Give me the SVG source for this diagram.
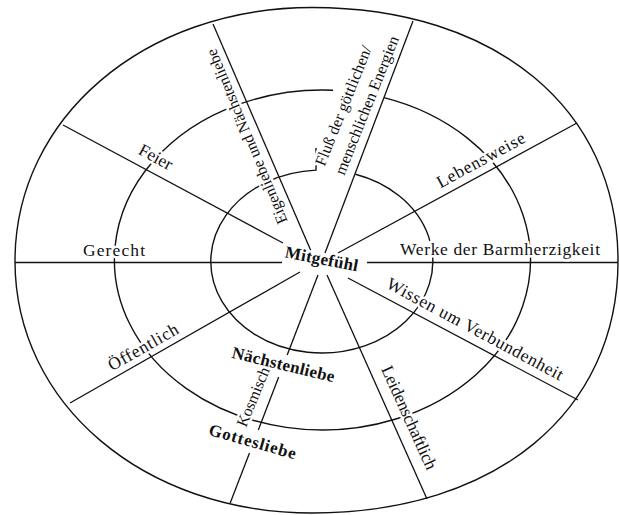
<svg xmlns="http://www.w3.org/2000/svg" xmlns:xlink="http://www.w3.org/1999/xlink" width="619" height="515" viewBox="0 0 619 515">
<style>
.ring{fill:none;stroke:#111;stroke-width:1.4}
.sp{fill:none;stroke:#111;stroke-width:1.3}
text{font-family:"Liberation Serif","Times New Roman",serif;text-anchor:middle;lengthAdjust:spacing}
.r{font-size:17.5px}
.s{font-size:16px}
.b{font-weight:bold;font-size:17px}
.halo{fill:#fff;stroke:#fff;stroke-width:5;stroke-linejoin:round}
.ink{fill:#111;stroke:none}
</style>
<defs>
<text id="t-feier" class="r" transform="translate(153 162) rotate(28.2)" textLength="36">Feier</text>
<text id="t-gerecht" class="r" x="114" y="256" textLength="62">Gerecht</text>
<text id="t-oeff" class="r" transform="translate(146 352) rotate(-29.7)" textLength="78">Öffentlich</text>
<text id="t-leb" class="r" transform="translate(483.6 165) rotate(-28.5)" textLength="98">Lebensweise</text>
<text id="t-werke" class="r" x="500" y="255" textLength="200">Werke der Barmherzigkeit</text>
<text id="t-wissen" class="r" transform="translate(472.4 334) rotate(28.2)" textLength="198">Wissen um Verbundenheit</text>
<text id="t-leid" class="r" transform="translate(404 420) rotate(65.7)" textLength="112">Leidenschaftlich</text>
<text id="t-naech" class="b" transform="translate(282 370) rotate(13.6)" textLength="105">Nächstenliebe</text>
<text id="t-kos" class="s" transform="translate(258 399) rotate(-67.5)" textLength="63">Kosmisch</text>
<text id="t-gott" class="b" transform="translate(251 447) rotate(15.9)" textLength="90">Gottesliebe</text>
<text id="t-mit" class="b" transform="translate(320.6 264.4) rotate(11)" textLength="74">Mitgefühl</text>
<text id="t-eigen" class="s" transform="translate(251.7 134.5) rotate(-112.6)" textLength="188">Eigenliebe und Nächstenliebe</text>
<text id="t-fluss1" class="s" transform="translate(348.2 107.7) rotate(-68.2)" textLength="128">Fluß der göttlichen/</text>
<text id="t-fluss2" class="s" transform="translate(371.7 107.2) rotate(-68.2)" textLength="148">menschlichen Energien</text>
</defs>
<rect width="619" height="515" fill="#fff"/>
<g id="rings">
<path id="outer" class="ring" d="M15 261 C15 118 144 7.5 312 7.5 C496 7.5 618 109 618 261 C618 412 496 513 312 513 C144 513 15 404 15 261 Z"/>
<path id="middle" class="ring" d="M384 97.6 A208 170 0 1 1 333 90.2"/>
<path id="inner" class="ring" d="M355.5 174.3 A111 91.5 0 1 1 316 170.1 L316 148"/>
</g>
<g id="connectors">
<line class="sp" x1="63" y1="125" x2="283" y2="243"/>
<line class="sp" x1="213" y1="24" x2="311" y2="251"/>
<line class="sp" x1="413" y1="21" x2="325" y2="253"/>
<line class="sp" x1="577" y1="123" x2="338" y2="253"/>
<line class="sp" x1="367" y1="262.5" x2="618" y2="262.5"/>
<line class="sp" x1="348" y1="278" x2="578" y2="400"/>
<line class="sp" x1="327" y1="275" x2="427" y2="499"/>
<line class="sp" x1="318" y1="275" x2="287.2" y2="355"/>
<line class="sp" x1="278.7" y1="377" x2="258.3" y2="430"/>
<line class="sp" x1="249.5" y1="453" x2="230.2" y2="503"/>
<line class="sp" x1="300" y1="272" x2="70" y2="403"/>
<line class="sp" x1="15" y1="262.5" x2="282" y2="262.5"/>
</g>
<g id="halos" class="halo">
<use xlink:href="#t-feier"/><use xlink:href="#t-gerecht"/><use xlink:href="#t-oeff"/><use xlink:href="#t-leb"/><use xlink:href="#t-werke"/><use xlink:href="#t-wissen"/><use xlink:href="#t-leid"/><use xlink:href="#t-naech"/><use xlink:href="#t-kos"/><use xlink:href="#t-gott"/><use xlink:href="#t-mit"/><use xlink:href="#t-eigen"/><use xlink:href="#t-fluss1"/><use xlink:href="#t-fluss2"/>
</g>
<g id="labels" class="ink">
<g id="n-feier"><use xlink:href="#t-feier"/></g>
<g id="n-gerecht"><use xlink:href="#t-gerecht"/></g>
<g id="n-oeffentlich"><use xlink:href="#t-oeff"/></g>
<g id="n-lebensweise"><use xlink:href="#t-leb"/></g>
<g id="n-werke"><use xlink:href="#t-werke"/></g>
<g id="n-wissen"><use xlink:href="#t-wissen"/></g>
<g id="n-leiden"><use xlink:href="#t-leid"/></g>
<g id="n-naechsten"><use xlink:href="#t-naech"/></g>
<g id="n-kosmisch"><use xlink:href="#t-kos"/></g>
<g id="n-gottes"><use xlink:href="#t-gott"/></g>
<g id="n-mitgefuehl"><use xlink:href="#t-mit"/></g>
<g id="n-eigen"><use xlink:href="#t-eigen"/></g>
<g id="n-fluss"><use xlink:href="#t-fluss1"/><use xlink:href="#t-fluss2"/></g>
</g>
</svg>
